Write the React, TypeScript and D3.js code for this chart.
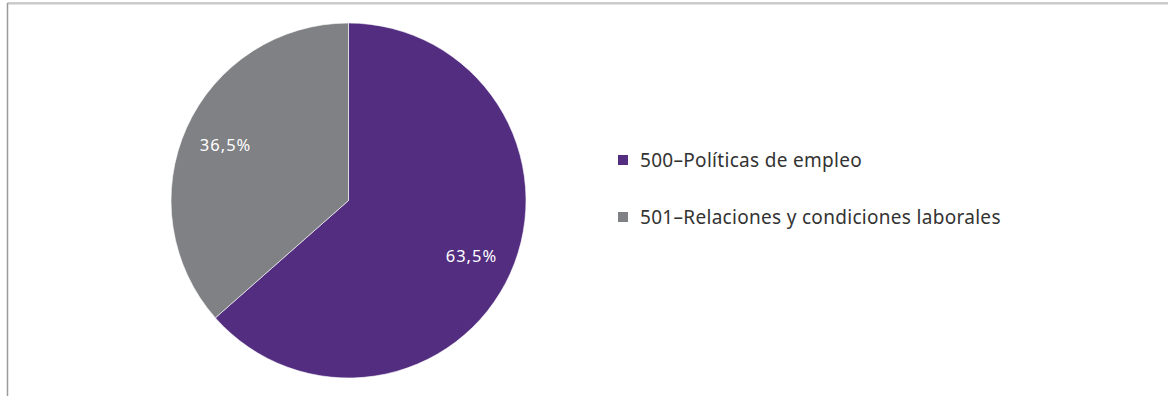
import React from "react";
import * as d3 from "d3";

const categories = ["500–Políticas de empleo", "501–Relaciones y condiciones laborales"];
const values = [63.5, 36.5];
const valueLabels = ["63,5%", "36,5%"];
const colors = ["#522d80", "#808184"];

const W = 1168;
const H = 396;
const cx = 348.5;
const cy = 200.5;
const R = 177.5;
const FONT = "'Noto Sans', 'Open Sans', sans-serif";

export default function App() {
  const pie = d3.pie<number>().sort(null).value((d) => d);
  const arcs = pie(values);
  const arc = d3.arc<d3.PieArcDatum<number>>().innerRadius(0).outerRadius(R);
  const labelArc = d3.arc<d3.PieArcDatum<number>>().innerRadius(R * 0.76).outerRadius(R * 0.76);

  const legendY = d3.scaleBand<string>().domain(categories).range([131.5, 245.5]);

  return (
    <svg
      width={W}
      height={H}
      style={{ position: "absolute", left: 0, top: 0, background: "#fff" }}
      fontFamily={FONT}
    >
      <line x1={7.5} x2={W} y1={3} y2={3} stroke="#9a9a9a" strokeWidth={1} />
      <line x1={7.5} x2={W} y1={4} y2={4} stroke="#c8c8c8" strokeWidth={1} />
      <line x1={7.5} x2={7.5} y1={3} y2={H} stroke="#9a9a9a" strokeWidth={1.5} />
      <g transform={`translate(${cx},${cy})`}>
        {arcs.map((a, i) => (
          <path key={i} d={arc(a) || ""} fill={colors[i]} stroke="#fff" strokeWidth={0.6} />
        ))}
        {arcs.map((a, i) => {
          const [x, y] = labelArc.centroid(a);
          return (
            <text
              key={i}
              x={x}
              y={y + 5.8}
              textAnchor="middle"
              fill="#fff"
              fontSize={16.5}
              letterSpacing={1}
            >
              {valueLabels[i]}
            </text>
          );
        })}
      </g>
      <g>
        {categories.map((c, i) => {
          const y = (legendY(c) || 0) + legendY.bandwidth() / 2;
          return (
            <g key={c}>
              <rect x={618} y={y - 5} width={10} height={10} fill={colors[i]} />
              <text x={640} y={y + 6.8} fontSize={19} letterSpacing={0.3} fill="#333">
                {c}
              </text>
            </g>
          );
        })}
      </g>
    </svg>
  );
}
